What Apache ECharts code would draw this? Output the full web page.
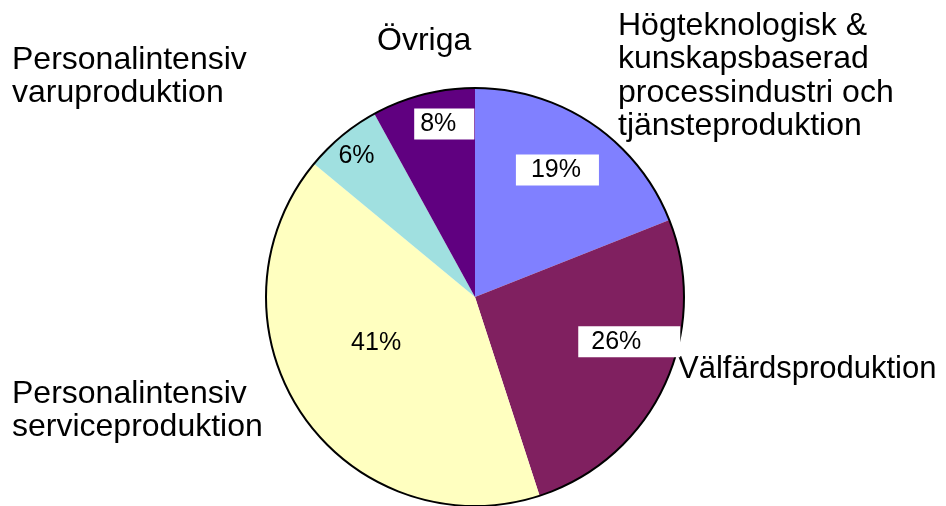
<!DOCTYPE html>
<html>
<head>
<meta charset="utf-8">
<script src="https://cdn.jsdelivr.net/npm/echarts@6/dist/echarts.min.js"></script>
<style>
  html, body { margin: 0; padding: 0; background: #fff; }
  #chart { width: 946px; height: 506px; }
</style>
</head>
<body>
<div id="chart"></div>
<script>
// slices clockwise from 12 o'clock
var categories = [
    'Högteknologisk & kunskapsbaserad processindustri och tjänsteproduktion',
    'Välfärdsproduktion',
    'Personalintensiv serviceproduktion',
    'Personalintensiv varuproduktion',
    'Övriga'
];
var shares = [19, 26, 41, 6, 8];
var colors = ['#8080ff', '#802060', '#ffffc0', '#a0e0e0', '#600080'];

// per slice label tweaks (Excel-like placement of the percent boxes)
var labelOffsets = [[22, -38], [57, -1], [-10, -14], [-50, -58], [-4, -69]];
var labelBoxes = [
    { bg: '#fff', pad: [4, 18, 2, 15] },
    { bg: '#fff', pad: [4, 39, 2, 13] },
    { bg: 'transparent', pad: 0 },
    { bg: 'transparent', pad: 0 },
    { bg: '#fff', pad: [4, 18, 2, 6] }
];

var font = '"Liberation Sans", Arial, sans-serif';

var pieData = shares.map(function (v, i) {
    return {
        name: categories[i],
        value: v,
        itemStyle: { color: colors[i] },
        label: {
            offset: labelOffsets[i],
            backgroundColor: labelBoxes[i].bg,
            padding: labelBoxes[i].pad
        }
    };
});

function outerText(txt, left, top, size) {
    return {
        type: 'text',
        left: left,
        top: top,
        style: {
            text: txt,
            font: (size || 32) + 'px ' + font,
            lineHeight: 33.5,
            fill: '#000'
        }
    };
}

var chart = echarts.init(document.getElementById('chart'));
chart.setOption({
    animation: false,
    backgroundColor: '#fff',
    series: [
        {
            type: 'pie',
            center: [475, 297],
            radius: [0, 209],
            startAngle: 90,
            clockwise: true,
            avoidLabelOverlap: false,
            itemStyle: { borderWidth: 0 },
            label: {
                show: true,
                position: 'inside',
                formatter: '{c}%',
                fontFamily: font,
                fontSize: 25,
                lineHeight: 25,
                color: '#000'
            },
            labelLine: { show: false },
            emphasis: { disabled: true },
            data: pieData
        },
        {
            type: 'pie',
            center: [475, 297],
            radius: [0, 209],
            silent: true,
            label: { show: false },
            labelLine: { show: false },
            itemStyle: { color: 'none', borderColor: '#000', borderWidth: 2 },
            data: [{ value: 1, name: 'outline' }]
        }
    ],
    graphic: [
        outerText('Personalintensiv\nvaruproduktion', 12, 43),
        outerText('Övriga', 377, 24),
        outerText('Högteknologisk &\nkunskapsbaserad\nprocessindustri och\ntjänsteproduktion', 618, 9),
        outerText('Välfärdsproduktion', 678, 353, 31),
        outerText('Personalintensiv\nserviceproduktion', 12, 377)
    ]
});
</script>
</body>
</html>
